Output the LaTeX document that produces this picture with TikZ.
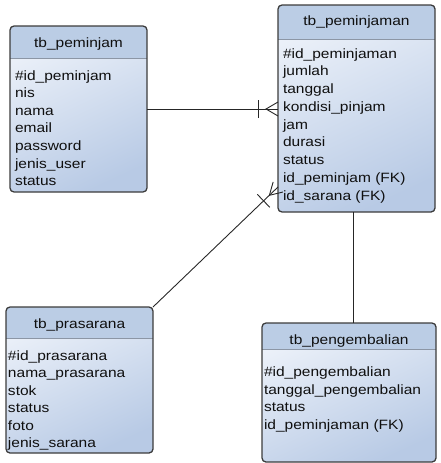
\documentclass[tikz,border=0pt]{standalone}
\usepackage{fontspec}
\setmainfont{Liberation Sans}[FakeStretch=1.15]
\usetikzlibrary{calc}
\definecolor{hdr}{RGB}{187,205,229}
\definecolor{btop}{RGB}{236,241,249}
\definecolor{bbot}{RGB}{184,202,229}
\definecolor{edgecol}{RGB}{60,60,60}
\definecolor{sepcol}{RGB}{140,150,165}
\definecolor{txtcol}{RGB}{15,15,15}
\tikzset{
  every node/.style={font=\fontsize{13.5}{16}\selectfont, inner sep=0pt, outer sep=0pt, text=txtcol},
  tblbody/.style={rectangle, rounded corners=4pt, top color=btop, bottom color=bbot, shading angle=25, draw=none},
  border/.style={draw=edgecol, line width=1.3pt, rounded corners=4pt},
  sepline/.style={draw=sepcol, line width=0.7pt},
  conn/.style={draw=black!85, line width=0.9pt},
  attr/.style={anchor=base west},
  ttl/.style={anchor=base},
}
\newcommand\ertable[6]{% name, x1, y1, x2, y2, header bottom
  \node[tblbody, minimum width={#4-#2}, minimum height={#5-#3}, anchor=north west] (#1) at (#2,#3) {};
  \begin{scope}
    \clip[rounded corners=4pt] (#2,#3) rectangle (#4,#5);
    \fill[hdr] (#2,#3) rectangle (#4,#6);
  \end{scope}
  \draw[sepline] (#2,#6) -- (#4,#6);
  \draw[border] (#2,#3) rectangle (#4,#5);
}
\newcommand\crowfoot[2]{% end at the many side, other end
  \coordinate (cfc) at ($(#1)!12pt!(#2)$);
  \coordinate (cfb) at ($(#1)!20pt!(#2)$);
  \draw[conn] ($(#1)!7pt!90:(#2)$) -- (cfc) -- ($(#1)!7pt!-90:(#2)$);
  \draw[conn] ($(cfb)!9pt!90:(#2)$) -- ($(cfb)!9pt!-90:(#2)$);
}
\begin{document}
\begin{tikzpicture}[x=1pt,y=-1pt]
\useasboundingbox (0,0) rectangle (440,463);

% tables
\ertable{pm}{10}{26}{147}{192}{58}
\node[ttl] (pm-t) at (78.5,47) {tb\_peminjam};
\foreach \t [count=\i from 0] in {\#id\_peminjam,nis,nama,email,password,jenis\_user,status}
  \node[attr] (pm-\i) at (15,{80+17.6*\i}) {\t};

\ertable{pn}{278}{5}{435}{212}{39}
\node[ttl] (pn-t) at (356.5,25) {tb\_peminjaman};
\foreach \t [count=\i from 0] in {\#id\_peminjaman,jumlah,tanggal,kondisi\_pinjam,jam,durasi,status,{id\_peminjam (FK)},{id\_sarana (FK)}}
  \node[attr] (pn-\i) at (283,{58+17.75*\i}) {\t};

\ertable{pr}{6}{307}{153}{453}{338}
\node[ttl] (pr-t) at (79.5,328) {tb\_prasarana};
\foreach \t [count=\i from 0] in {\#id\_prasarana,nama\_prasarana,stok,status,foto,jenis\_sarana}
  \node[attr] (pr-\i) at (8,{360.5+17.4*\i}) {\t};

\ertable{pg}{262}{323}{436}{462}{349}
\node[ttl] (pg-t) at (349,344) {tb\_pengembalian};
\foreach \t [count=\i from 0] in {\#id\_pengembalian,tanggal\_pengembalian,status,{id\_peminjaman (FK)}}
  \node[attr] (pg-\i) at (264,{376.5+17.6*\i}) {\t};

% connectors
\coordinate (a1) at (pm.east |- 0,109);
\coordinate (b1) at (pn.west |- 0,109);
\draw[conn] (a1) -- (b1);
\crowfoot{b1}{a1}

\coordinate (a2) at (pr.north east);
\coordinate (b2) at (pn.west |- 0,187);
\draw[conn] (a2) -- (b2);
\crowfoot{b2}{a2}

\coordinate (a3) at (pn.south -| 353,0);
\coordinate (b3) at (pg.north -| 353,0);
\draw[conn] (a3) -- (b3);
\end{tikzpicture}
\end{document}
